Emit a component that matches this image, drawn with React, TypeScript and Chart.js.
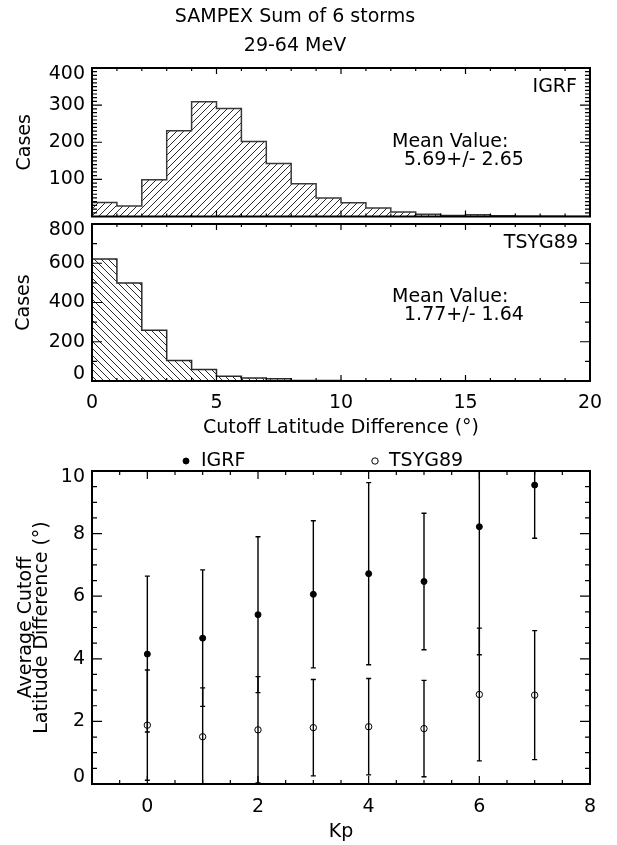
import React, { useEffect, useRef } from "react";
import { Chart, registerables } from "chart.js";

Chart.register(...registerables);

const FONT = "'DejaVu Sans ExtraLight', 'DejaVu Sans', 'Liberation Sans', sans-serif";

// ---------- data ----------
const TITLE_LINES = ["SAMPEX Sum of 6 storms", "29-64 MeV"];

const BIN_LEFT_EDGES = [0, 1, 2, 3, 4, 5, 6, 7, 8, 9, 10, 11, 12, 13, 14, 15, 16, 17, 18, 19];
const BIN_END = 20;
const IGRF_COUNTS = [38, 28, 99, 231, 309, 291, 202, 143, 88, 50, 37, 23, 12, 6, 3, 5, 2, 1, 1, 0];
const TSYG_COUNTS = [622, 499, 259, 105, 58, 24, 15, 12, 3, 3, 1, 0, 0, 0, 0, 0, 0, 0, 0, 0];

const HIST_X_TICKS = [0, 5, 10, 15, 20];
const IGRF_Y_TICKS = [100, 200, 300, 400];
const TSYG_Y_TICKS = [0, 200, 400, 600, 800];

const IGRF_MEAN_TEXT = ["Mean Value:", "5.69+/- 2.65"];
const TSYG_MEAN_TEXT = ["Mean Value:", "1.77+/- 1.64"];

const KP = [0, 1, 2, 3, 4, 5, 6, 7];
const IGRF_AVG = [4.15, 4.66, 5.41, 6.06, 6.72, 6.47, 8.22, 9.55];
const IGRF_SD = [2.49, 2.18, 2.49, 2.35, 2.91, 2.18, 4.09, 1.70];
const TSYG_AVG = [1.88, 1.51, 1.73, 1.80, 1.83, 1.77, 2.86, 2.84];
const TSYG_SD = [1.76, 1.56, 1.70, 1.54, 1.54, 1.54, 2.12, 2.06];

const KP_TICKS = [0, 2, 4, 6, 8];
const AVG_Y_TICKS = [0, 2, 4, 6, 8, 10];

// ---------- helpers ----------
const toSteps = (edges: number[], counts: number[], end: number) =>
  edges.map((e, i) => ({ x: e, y: counts[i] })).concat([{ x: end, y: 0 }]);

const edgeLabel = (v: number, min: number, max: number) => {
  if (v === max) return ["", String(v)];
  if (v === min) return [String(v), ""];
  return String(v);
};

const fixedTicks = (vals: number[]) => (scale: any) => {
  scale.ticks = vals.map((v) => ({ value: v }));
};

const makeHatch = (ctx: CanvasRenderingContext2D, dir: 1 | -1) => {
  const size = 7;
  const c = document.createElement("canvas");
  c.width = size;
  c.height = size;
  const g = c.getContext("2d")!;
  g.strokeStyle = "#2a2a2a";
  g.lineWidth = 1;
  g.beginPath();
  if (dir === 1) {
    g.moveTo(0, size); g.lineTo(size, 0);
    g.moveTo(-1, 1); g.lineTo(1, -1);
    g.moveTo(size - 1, size + 1); g.lineTo(size + 1, size - 1);
  } else {
    g.moveTo(0, 0); g.lineTo(size, size);
    g.moveTo(-1, size - 1); g.lineTo(1, size + 1);
    g.moveTo(size - 1, -1); g.lineTo(size + 1, 1);
  }
  g.stroke();
  return ctx.createPattern(c, "repeat");
};

const range = (min: number, max: number, step: number) => {
  const out: number[] = [];
  for (let v = min; v <= max + 1e-9; v += step) out.push(Math.round(v * 1000) / 1000);
  return out;
};

// ---------- plugins ----------
const framePlugin = {
  id: "frame",
  afterDatasetsDraw(chart: any, _a: any, opts: any) {
    const { ctx, chartArea: a, scales } = chart;
    const xs = scales.x;
    const ys = scales.y;
    ctx.save();
    ctx.strokeStyle = "#000";
    ctx.lineWidth = 1.2;
    ctx.beginPath();
    const xMinor = range(xs.min, xs.max, opts.xMinorStep);
    const yMinor = range(ys.min, ys.max, opts.yMinorStep);
    const drawX = (vals: number[], len: number) => {
      vals.forEach((v) => {
        const px = xs.getPixelForValue(v);
        if (px < a.left - 0.5 || px > a.right + 0.5) return;
        ctx.moveTo(px, a.bottom); ctx.lineTo(px, a.bottom - len);
        ctx.moveTo(px, a.top); ctx.lineTo(px, a.top + len);
      });
    };
    const drawY = (vals: number[], len: number) => {
      vals.forEach((v) => {
        const py = ys.getPixelForValue(v);
        if (py < a.top - 0.5 || py > a.bottom + 0.5) return;
        ctx.moveTo(a.left, py); ctx.lineTo(a.left + len, py);
        ctx.moveTo(a.right, py); ctx.lineTo(a.right - len, py);
      });
    };
    drawX(xMinor, opts.xLen[1]);
    drawX(opts.xMajor, opts.xLen[0]);
    drawY(yMinor, opts.yLen[1]);
    drawY(opts.yMajor, opts.yLen[0]);
    ctx.stroke();
    ctx.lineWidth = 2;
    ctx.strokeRect(a.left, a.top, a.right - a.left, a.bottom - a.top);
    ctx.restore();
  },
};

const notesPlugin = {
  id: "notes",
  afterDraw(chart: any, _a: any, opts: any) {
    const ctx = chart.ctx;
    ctx.save();
    ctx.fillStyle = "#000";
    ctx.font = `19px ${FONT}`;
    ctx.textBaseline = "middle";
    (opts.items || []).forEach((it: any) => {
      ctx.textAlign = it.align || "left";
      ctx.fillText(it.text, it.x, it.y);
    });
    ctx.restore();
  },
};

const errorBarPlugin = {
  id: "errorBars",
  beforeDatasetsDraw(chart: any) {
    const { ctx, chartArea: a, scales } = chart;
    const xs = scales.x;
    const ys = scales.y;
    ctx.save();
    ctx.beginPath();
    ctx.rect(a.left, a.top, a.right - a.left, a.bottom - a.top);
    ctx.clip();
    ctx.strokeStyle = "#000";
    ctx.lineWidth = 1.4;
    chart.data.datasets.forEach((ds: any) => {
      if (!ds.errors) return;
      ds.data.forEach((p: any, j: number) => {
        const px = xs.getPixelForValue(p.x);
        const top = ys.getPixelForValue(p.y + ds.errors[j]);
        const bot = ys.getPixelForValue(p.y - ds.errors[j]);
        ctx.beginPath();
        ctx.moveTo(px, top); ctx.lineTo(px, bot);
        ctx.moveTo(px - 2.5, top); ctx.lineTo(px + 2.5, top);
        ctx.moveTo(px - 2.5, bot); ctx.lineTo(px + 2.5, bot);
        ctx.stroke();
      });
    });
    ctx.restore();
  },
};

const markerLegendPlugin = {
  id: "markerLegend",
  afterDraw(chart: any, _a: any, opts: any) {
    const ctx = chart.ctx;
    ctx.save();
    (opts.items || []).forEach((it: any, i: number) => {
      const ds = chart.data.datasets[i];
      ctx.beginPath();
      ctx.arc(it.x, it.y, ds.pointRadius, 0, Math.PI * 2);
      ctx.fillStyle = ds.pointBackgroundColor;
      ctx.fill();
      ctx.strokeStyle = ds.pointBorderColor;
      ctx.lineWidth = ds.pointBorderWidth;
      ctx.stroke();
      ctx.fillStyle = "#000";
      ctx.font = `19px ${FONT}`;
      ctx.textBaseline = "middle";
      ctx.textAlign = "left";
      ctx.fillText(ds.label, it.x + it.gap, it.y);
    });
    ctx.restore();
  },
};

const tickFont = { family: FONT, size: 19, lineHeight: "13px" };
const xTickFont = { family: FONT, size: 19 };
const titleFont = { family: FONT, size: 19 };

export default function App() {
  const r1 = useRef<HTMLCanvasElement>(null);
  const r2 = useRef<HTMLCanvasElement>(null);
  const r3 = useRef<HTMLCanvasElement>(null);

  useEffect(() => {
    Chart.defaults.color = "#000";
    Chart.defaults.font.family = FONT;
    const ctx1 = r1.current!.getContext("2d")!;
    const ctx2 = r2.current!.getContext("2d")!;

    const c1 = new Chart(r1.current!, {
      type: "line",
      data: {
        datasets: [
          {
            label: "IGRF",
            data: toSteps(BIN_LEFT_EDGES, IGRF_COUNTS, BIN_END),
            stepped: "before",
            fill: "origin",
            backgroundColor: makeHatch(ctx1, 1) as any,
            borderColor: "#3a3a3a",
            borderWidth: 1.5,
            pointRadius: 0,
          },
        ],
      },
      options: {
        responsive: false,
        animation: false,
        devicePixelRatio: 1,
        layout: { autoPadding: false, padding: { top: 0, left: 0, right: 27, bottom: 7 } } as any,
        plugins: {
          legend: { display: false },
          tooltip: { enabled: false },
          title: {
            display: true,
            text: TITLE_LINES,
            color: "#000",
            font: { family: FONT, size: 19, weight: "normal", lineHeight: "28.5px" } as any,
            padding: { top: 3, bottom: 8 },
          },
          frame: { xMajor: HIST_X_TICKS, xMinorStep: 1, yMajor: IGRF_Y_TICKS, yMinorStep: 10, xLen: [6, 3], yLen: [10, 5] },
          notes: {
            items: [
              { text: "IGRF", x: 577, y: 87, align: "right" },
              { text: IGRF_MEAN_TEXT[0], x: 392, y: 142 },
              { text: IGRF_MEAN_TEXT[1], x: 404, y: 160 },
            ],
          },
        } as any,
        scales: {
          x: { type: "linear", display: false, min: 0, max: BIN_END },
          y: {
            min: 0,
            max: 400,
            afterFit: (s: any) => { s.width = 92; },
            afterBuildTicks: fixedTicks(IGRF_Y_TICKS),
            grid: { display: false, drawTicks: false },
            border: { display: false },
            ticks: { font: tickFont as any, padding: 7, autoSkip: false, callback: (v: any) => edgeLabel(v, 0, 400) },
            title: { display: true, text: "Cases", font: titleFont, padding: { top: 13.6, bottom: 0 } },
          },
        },
      },
      plugins: [framePlugin, notesPlugin],
    });

    const c2 = new Chart(r2.current!, {
      type: "line",
      data: {
        datasets: [
          {
            label: "TSYG89",
            data: toSteps(BIN_LEFT_EDGES, TSYG_COUNTS, BIN_END),
            stepped: "before",
            fill: "origin",
            backgroundColor: makeHatch(ctx2, -1) as any,
            borderColor: "#2a2a2a",
            borderWidth: 1.5,
            pointRadius: 0,
          },
        ],
      },
      options: {
        responsive: false,
        animation: false,
        devicePixelRatio: 1,
        layout: { autoPadding: false, padding: { top: 24, left: 0, right: 27, bottom: 0 } } as any,
        plugins: {
          legend: { display: false },
          tooltip: { enabled: false },
          frame: { xMajor: HIST_X_TICKS, xMinorStep: 1, yMajor: TSYG_Y_TICKS, yMinorStep: 100, xLen: [6, 3], yLen: [10, 5] },
          notes: {
            items: [
              { text: "TSYG89", x: 578, y: 43, align: "right" },
              { text: TSYG_MEAN_TEXT[0], x: 392, y: 97 },
              { text: TSYG_MEAN_TEXT[1], x: 404, y: 115 },
            ],
          },
        } as any,
        scales: {
          x: {
            type: "linear",
            min: 0,
            max: BIN_END,
            afterFit: (s: any) => { s.height = 64; },
            afterBuildTicks: fixedTicks(HIST_X_TICKS),
            grid: { display: false, drawTicks: false },
            border: { display: false },
            ticks: { font: xTickFont, padding: 10.6, autoSkip: false, maxRotation: 0 },
            title: { display: true, text: "Cutoff Latitude Difference (°)", font: titleFont, padding: { top: 0, bottom: 5.6 } },
          },
          y: {
            min: 0,
            max: 800,
            afterFit: (s: any) => { s.width = 92; },
            afterBuildTicks: fixedTicks(TSYG_Y_TICKS),
            grid: { display: false, drawTicks: false },
            border: { display: false },
            ticks: { font: tickFont as any, padding: 7, autoSkip: false, callback: (v: any) => edgeLabel(v, 0, 800) },
            title: { display: true, text: "Cases", font: titleFont, padding: { top: 12.6, bottom: 0 } },
          },
        },
      },
      plugins: [framePlugin, notesPlugin],
    });

    const c3 = new Chart(r3.current!, {
      type: "scatter",
      data: {
        datasets: [
          {
            label: "IGRF",
            data: KP.map((k, i) => ({ x: k, y: IGRF_AVG[i] })),
            errors: IGRF_SD,
            pointRadius: 3,
            pointBackgroundColor: "#000",
            pointBorderColor: "#000",
            pointBorderWidth: 1,
          } as any,
          {
            label: "TSYG89",
            data: KP.map((k, i) => ({ x: k, y: TSYG_AVG[i] })),
            errors: TSYG_SD,
            pointRadius: 3.2,
            pointBackgroundColor: "rgba(0,0,0,0)",
            pointBorderColor: "#000",
            pointBorderWidth: 1,
          } as any,
        ],
      },
      options: {
        responsive: false,
        animation: false,
        devicePixelRatio: 1,
        layout: { autoPadding: false, padding: { top: 31, left: 0, right: 27, bottom: 0 } } as any,
        plugins: {
          legend: { display: false },
          tooltip: { enabled: false },
          frame: { xMajor: KP_TICKS, xMinorStep: 0.5, yMajor: AVG_Y_TICKS, yMinorStep: 0.5, xLen: [8, 4], yLen: [10, 5] },
          markerLegend: { items: [{ x: 186, y: 21, gap: 15 }, { x: 375, y: 21, gap: 14 }] },
        } as any,
        scales: {
          x: {
            type: "linear",
            min: -1,
            max: 8,
            afterFit: (s: any) => { s.height = 61; },
            afterBuildTicks: fixedTicks(KP_TICKS),
            grid: { display: false, drawTicks: false },
            border: { display: false },
            ticks: { font: xTickFont, padding: 11.6, autoSkip: false, maxRotation: 0 },
            title: { display: true, text: "Kp", font: titleFont, padding: { top: 0, bottom: 1.6 } },
          },
          y: {
            min: 0,
            max: 10,
            afterFit: (s: any) => { s.width = 92; },
            afterBuildTicks: fixedTicks(AVG_Y_TICKS),
            grid: { display: false, drawTicks: false },
            border: { display: false },
            ticks: { font: tickFont as any, padding: 7, autoSkip: false, callback: (v: any) => edgeLabel(v, 0, 10) },
            title: {
              display: true,
              text: ["Average Cutoff", "Latitude Difference (°)"],
              font: { family: FONT, size: 19, lineHeight: "16px" } as any,
              padding: { top: 18, bottom: 0 },
            },
          },
        },
      },
      plugins: [errorBarPlugin, framePlugin, markerLegendPlugin],
    });

    return () => {
      c1.destroy();
      c2.destroy();
      c3.destroy();
    };
  }, []);

  const cs = (top: number, h: number): React.CSSProperties => ({
    position: "absolute",
    left: 0,
    top,
    width: 617,
    height: h,
  });

  return (
    <div style={{ position: "absolute", left: 0, top: 0, width: 617, height: 845, background: "#fff" }}>
      <canvas ref={r1} width={617} height={230} style={cs(0, 230)} />
      <canvas ref={r2} width={617} height={245} style={cs(200, 245)} />
      <canvas ref={r3} width={617} height={405} style={cs(440, 405)} />
    </div>
  );
}
